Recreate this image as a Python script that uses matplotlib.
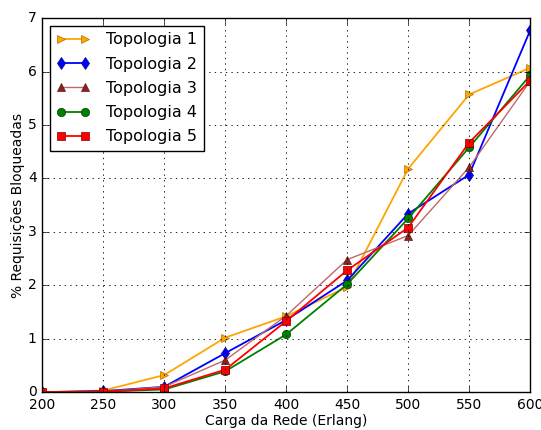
import matplotlib
matplotlib.use("Agg")
import matplotlib.pyplot as plt

plt.style.use('classic')

carga = [200, 250, 300, 350, 400, 450, 500, 550, 600]
topo1 = [0.0, 0.03, 0.32, 1.02, 1.42, 1.97, 4.18, 5.57, 6.07]
topo2 = [0.0, 0.02, 0.10, 0.73, 1.35, 2.09, 3.34, 4.07, 6.77]
topo3 = [0.0, 0.01, 0.10, 0.60, 1.43, 2.48, 2.93, 4.21, 5.82]
topo4 = [0.0, 0.01, 0.05, 0.39, 1.08, 2.02, 3.25, 4.58, 5.93]
topo5 = [0.0, 0.01, 0.07, 0.42, 1.33, 2.28, 3.08, 4.67, 5.83]
labels = ["Topologia 1", "Topologia 2", "Topologia 3", "Topologia 4", "Topologia 5"]

fig = plt.figure(figsize=(5.41, 4.30), dpi=100, facecolor='white')
ax = fig.add_axes([0.078, 0.088, 0.902, 0.870])

ax.plot(carga, topo1, color='#FFA500', marker='>', markersize=6, markerfacecolor='#FFA500',
        markeredgecolor='#B07000', linewidth=1.3, label=labels[0])
ax.plot(carga, topo2, color='#0000FF', marker='d', markersize=6, markerfacecolor='#0000FF',
        markeredgecolor='#000080', linewidth=1.3, label=labels[1])
ax.plot(carga, topo3, color='#C06868', marker='^', markersize=6, markerfacecolor='#8B2323',
        markeredgecolor='#5a1515', linewidth=1.0, label=labels[2])
ax.plot(carga, topo4, color='#008000', marker='o', markersize=6, markerfacecolor='#008000',
        markeredgecolor='#004000', linewidth=1.3, label=labels[3])
ax.plot(carga, topo5, color='#FF0000', marker='s', markersize=6, markerfacecolor='#FF0000',
        markeredgecolor='#800000', linewidth=1.3, label=labels[4])

ax.set_xlim(200, 600)
ax.set_ylim(0, 7)
ax.set_xticks(carga)
ax.set_yticks(range(0, 8))
ax.tick_params(labelsize=10)
ax.grid(True, color='black', linestyle=':', linewidth=0.6)
ax.set_xlabel("Carga da Rede (Erlang)", fontsize=10, labelpad=2)
ax.set_ylabel("% Requisições Bloqueadas", fontsize=10, labelpad=2)
leg = ax.legend(loc='upper left', fontsize=11.5, numpoints=2, borderaxespad=0.5,
                handlelength=2.1, labelspacing=0.58, handletextpad=1.0)

fig.savefig("out.png", dpi=100, facecolor='white')
